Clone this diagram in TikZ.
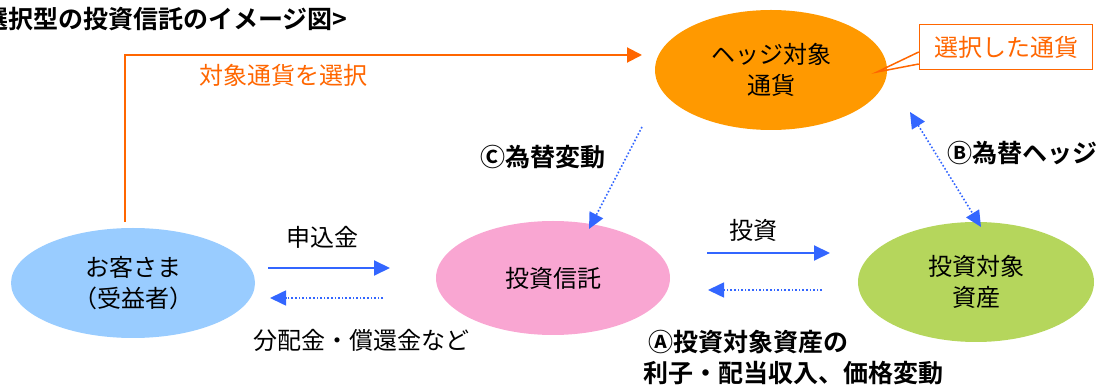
\documentclass[tikz,border=0pt]{standalone}
\usepackage{fontspec}
\setmainfont{Noto Sans CJK JP}[BoldFont={* Bold}]
\usetikzlibrary{shapes.geometric,arrows.meta,calc}
\definecolor{borange}{HTML}{FF6600}
\definecolor{forange}{HTML}{FF9900}
\definecolor{lblue}{HTML}{99CCFF}
\definecolor{pinkf}{HTML}{F9A6D2}
\definecolor{greenf}{HTML}{B5D65C}
\definecolor{arrblue}{HTML}{3366FF}
\tikzset{
  ell/.style={ellipse, draw=none, inner sep=0pt, align=center,
    font=\fontsize{24}{31}\selectfont},
  txt/.style={font=\fontsize{24}{31}\selectfont, inner sep=0pt},
  btxt/.style={font=\fontsize{25}{31}\selectfont\bfseries, inner sep=0pt},
  solidarr/.style={arrblue, line width=2pt, -{Triangle[length=16pt,width=15pt]}},
  dotarr/.style={arrblue, line width=1.6pt, dash pattern=on 1.6pt off 2pt,
    -{Triangle[length=16pt,width=15pt]}},
  dotdbl/.style={arrblue, line width=1.6pt, dash pattern=on 1.6pt off 2pt,
    {Triangle[length=16pt,width=15pt]}-{Triangle[length=16pt,width=15pt]}},
  orangearr/.style={borange, line width=2pt, -{Triangle[length=15pt,width=15pt]}}
}
\begin{document}
\begin{tikzpicture}[x=1pt,y=-1pt]
\useasboundingbox (0,0) rectangle (1098,387);

% title
\node[btxt, anchor=west] (title) at (-17,19) {選択型の投資信託のイメージ図>};

% ellipses
\node[ell, fill=forange, minimum width=232pt, minimum height=120pt] (hedge) at (771,70) {ヘッジ対象\\通貨};
\node[ell, fill=lblue, minimum width=244pt, minimum height=110pt] (cust) at (133,283) {お客さま\\（受益者）};
\node[ell, fill=pinkf, minimum width=234pt, minimum height=114pt] (fund) at (553,278) {投資信託};
\node[ell, fill=greenf, minimum width=236pt, minimum height=120pt] (asset) at (976,282) {投資対象\\資産};

% callout
\node[draw=borange, line width=1.5pt, fill=white, text=borange, txt,
      minimum width=173pt, minimum height=45pt] (callout) at (1006,47) {選択した通貨};
\coordinate (ptip) at (877,72);
\draw[borange, line width=1.5pt] ($(callout.west)+(0,5)$) -- (ptip) -- ($(callout.west)+(0,17)$);

% orange selection arrow
\coordinate (oStart) at (125,222);
\coordinate (oEnd) at (642,55);
\draw[orangearr] (oStart) |- (oEnd);
\node[txt, text=borange] (olab) at (283,75) {対象通貨を選択};

% customer <-> fund
\coordinate (a1s) at (268,268); \coordinate (a1e) at (390,268);
\coordinate (a2s) at (383,298); \coordinate (a2e) at (270,298);
\draw[solidarr] (a1s) -- (a1e);
\draw[dotarr] (a2s) -- (a2e);
\node[txt] (l1) at (322,237) {申込金};
\node[txt] (l2) at (361,340) {分配金・償還金など};

% fund <-> asset
\coordinate (b1s) at (707,253); \coordinate (b1e) at (830,253);
\coordinate (b2s) at (822,290); \coordinate (b2e) at (708,290);
\draw[solidarr] (b1s) -- (b1e);
\draw[dotarr] (b2s) -- (b2e);
\node[txt] (l3) at (753,230) {投資};

% C arrow
\coordinate (cs) at (642,127); \coordinate (ce) at (589,229);
\draw[dotarr] (cs) -- (ce);
\node[btxt] (lc) at (543,157) {Ⓒ為替変動};

% B arrow
\coordinate (bs) at (910,112); \coordinate (be) at (981,227);
\draw[dotdbl] (bs) -- (be);
\node[btxt, anchor=west] (lb) at (947,153) {Ⓑ為替ヘッジ};

% A label
\node[btxt, anchor=west] (la1) at (648,342) {Ⓐ投資対象資産の};
\node[btxt, anchor=west] (la2) at (643,373) {利子・配当収入、価格変動};
\end{tikzpicture}
\end{document}
